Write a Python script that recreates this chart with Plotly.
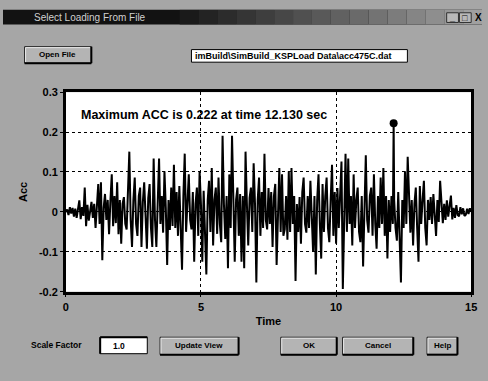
import numpy as np
import plotly.graph_objects as go

# Acceleration record, sampled every dt seconds (one row = 0.5 s)
dt = 0.05
acc = [
    0.000, 0.006, -0.008, 0.012, -0.004, 0.010, -0.012, 0.008, -0.015, 0.014,
    0.029, -0.018, 0.012, -0.010, 0.061, -0.036, 0.018, -0.022, 0.010, 0.025,
    -0.015, 0.020, -0.040, 0.022, 0.070, -0.030, 0.074, -0.121, 0.010, 0.045,
    -0.020, 0.030, -0.056, 0.028, 0.094, -0.036, 0.040, -0.028, 0.074, -0.056,
    0.030, -0.080, 0.020, 0.037, -0.030, -0.044, 0.050, 0.151, -0.020, -0.088,
    0.030, 0.086, -0.030, -0.060, 0.040, 0.061, -0.088, 0.025, 0.074, -0.040,
    -0.092, 0.035, 0.070, -0.040, -0.088, 0.134, -0.020, -0.088, 0.045, 0.134,
    -0.030, 0.040, -0.052, 0.102, 0.010, -0.133, 0.030, -0.045, 0.061, -0.035,
    0.118, -0.040, 0.050, -0.060, 0.065, -0.030, -0.145, 0.040, 0.146, -0.050,
    0.030, 0.094, -0.020, -0.044, 0.050, -0.125, 0.020, 0.061, -0.060, 0.102,
    0.020, -0.125, 0.053, -0.030, -0.157, 0.030, 0.078, -0.050, 0.110, -0.084,
    0.030, 0.061, -0.055, 0.086, -0.030, -0.076, 0.191, 0.020, -0.068, 0.040,
    -0.141, 0.094, -0.040, 0.191, 0.010, -0.125, 0.030, 0.061, -0.060, 0.045,
    -0.125, 0.040, -0.141, 0.151, 0.020, -0.084, 0.035, 0.061, -0.050, 0.122,
    0.020, -0.177, 0.030, 0.086, -0.060, 0.050, -0.040, 0.146, -0.020, -0.044,
    0.060, -0.030, 0.050, -0.088, 0.040, 0.070, -0.133, 0.030, 0.110, -0.050,
    0.094, -0.060, -0.044, 0.040, -0.070, 0.102, -0.050, 0.110, -0.030, 0.040,
    -0.173, 0.020, -0.050, 0.037, -0.080, 0.050, 0.086, -0.030, -0.052, 0.040,
    -0.040, 0.078, -0.020, -0.100, 0.040, -0.157, 0.030, 0.094, -0.030, -0.117,
    0.070, -0.050, 0.040, 0.086, -0.040, -0.076, 0.030, 0.118, -0.060, 0.050,
    -0.080, 0.060, -0.040, 0.030, 0.126, -0.193, 0.020, 0.146, -0.050, 0.134,
    -0.030, 0.040, -0.084, 0.094, -0.040, 0.030, 0.061, -0.050, -0.076, 0.040,
    -0.137, 0.030, 0.142, -0.020, -0.052, 0.040, 0.061, -0.060, 0.094, -0.030,
    -0.092, 0.040, -0.040, 0.086, -0.030, 0.110, -0.060, 0.040, -0.117, 0.030,
    -0.050, 0.040, -0.030, 0.030, -0.040, -0.072, 0.050, -0.040, -0.177, 0.030,
    -0.040, 0.102, -0.030, 0.138, 0.010, -0.052, 0.030, -0.084, 0.020, 0.061,
    -0.040, -0.125, 0.065, -0.030, 0.030, 0.078, -0.040, -0.084, 0.030, -0.020,
    0.037, -0.030, 0.045, -0.020, -0.060, 0.030, -0.025, 0.078, 0.010, -0.028,
    0.020, -0.020, 0.029, -0.012, 0.015, 0.041, -0.019, 0.010, -0.015, 0.017,
    -0.008, -0.011, 0.012, -0.006, 0.009, -0.010, -0.007, 0.008, -0.005, 0.009,
    0.000,
]

# Maximum of the record
peak_time = 12.13
peak_acc = 0.222

x_ticks = [0, 5, 10, 15]
y_ticks = [-0.2, -0.1, 0, 0.1, 0.2, 0.3]
y_tick_text = ["-0.2", "-0.1", "0", "0.1", "0.2", "0.3"]

file_name = "imBuild\\SimBuild_KSPLoad Data\\acc475C.dat"
scale_factor = "1.0"

# merge the peak sample into the record
time = np.arange(len(acc)) * dt
pos = int(np.searchsorted(time, peak_time))
t_all = np.insert(time, pos, peak_time)
a_all = np.insert(np.array(acc), pos, peak_acc)

W, H = 488, 381
FONT = "Liberation Sans"
GRAY = "#a6a6a6"


def px(x):
    return x / W


def py(y):
    return 1 - y / H


shapes = []
annotations = []


def rect(x0, y0, x1, y1, fill, line=None, lw=0):
    shapes.append(dict(type="rect", xref="paper", yref="paper",
                       x0=px(x0), x1=px(x1), y0=py(y1), y1=py(y0),
                       fillcolor=fill, line=dict(color=line or fill, width=lw)))


def seg(x0, y0, x1, y1, color, lw):
    shapes.append(dict(type="line", xref="paper", yref="paper",
                       x0=px(x0), x1=px(x1), y0=py(y0), y1=py(y1),
                       line=dict(color=color, width=lw)))


def text(x, y, s, size=9, color="black", bold=True, xanchor="center"):
    annotations.append(dict(xref="paper", yref="paper", x=px(x), y=py(y), text=s,
                            showarrow=False, xanchor=xanchor, yanchor="middle",
                            font=dict(family=FONT, size=size, color=color,
                                      weight="bold" if bold else "normal")))


def button(x0, y0, x1, y1, label):
    rect(x0, y0, x1, y1, "#b4b4b4", "#202020", 1)
    seg(x0 + 1, y0 + 1, x1 - 1, y0 + 1, "#e8e8e8", 1)
    seg(x0 + 1, y0 + 1, x0 + 1, y1 - 1, "#e8e8e8", 1)
    seg(x0, y1, x1, y1, "black", 2)
    seg(x1, y0, x1, y1, "black", 2)
    text((x0 + x1) / 2, (y0 + y1) / 2, label, size=8)


# window title bar, dark on the left fading to gray towards the right
rect(0, 4, 488, 19, "#121212")
steps = 16
for i in range(steps):
    c = int(18 + (160 - 18) * (i + 1) / steps)
    rect(180 + i * 19.25, 4, 180 + (i + 1) * 19.25, 19, f"rgb({c},{c},{c})")
text(30, 12, "Select Loading From File", size=10, color="#d0d0d0", bold=False, xanchor="left")
rect(452, 7, 464, 17, "#b8b8b8", "#303030", 1)
rect(465, 7, 477, 17, "#b8b8b8", "#303030", 1)
text(458, 12, "_", size=9)
text(471, 12, "□", size=9)
text(484, 12, "X", size=10)

# top controls
button(22, 42, 90, 59, "Open File")
rect(192, 45, 412, 58, "white", "black", 1)
text(194, 52, file_name, size=9, xanchor="left")

# bottom controls
text(54, 350, "Scale Factor", size=8.5)
rect(99, 342, 147, 359, "white", "black", 1)
seg(99, 342, 147, 342, "black", 2)
seg(99, 342, 99, 359, "black", 2)
text(118, 351, scale_factor, size=8.5)
button(160, 342, 240, 360, "Update View")
button(283, 342, 340, 360, "OK")
button(346, 342, 418, 360, "Cancel")
button(432, 342, 463, 360, "Help")

fig = go.Figure()
fig.add_trace(go.Scatter(x=t_all, y=a_all, mode="lines",
                         line=dict(color="black", width=2), hoverinfo="skip"))
fig.add_trace(go.Scatter(x=[peak_time], y=[peak_acc], mode="markers",
                         marker=dict(color="black", size=8), hoverinfo="skip"))

annotations.append(dict(x=0.47, y=0.244, xref="x", yref="y", xanchor="left",
                        yanchor="middle", showarrow=False,
                        text=f"Maximum ACC is {peak_acc:.3f} at time {peak_time:.3f} sec",
                        font=dict(family=FONT, size=12.5, color="black", weight="bold")))

fig.update_layout(
    width=W, height=H, autosize=False,
    margin=dict(l=0, r=0, t=0, b=0),
    paper_bgcolor=GRAY, plot_bgcolor="white",
    showlegend=False,
    shapes=shapes, annotations=annotations,
    xaxis=dict(domain=[64 / W, 477 / W], range=[0, 15], tickvals=x_ticks,
               showline=True, linecolor="black", linewidth=2.5, mirror=True,
               ticks="outside", ticklen=3, tickcolor="black",
               showgrid=True, gridcolor="black", griddash="dot", gridwidth=1,
               zeroline=False,
               tickfont=dict(family=FONT, size=11, color="black", weight="bold"),
               title=dict(text="Time", standoff=6,
                          font=dict(family=FONT, size=11, color="black", weight="bold"))),
    yaxis=dict(domain=[py(295), py(89)], range=[-0.2, 0.3], tickvals=y_ticks,
               ticktext=y_tick_text,
               showline=True, linecolor="black", linewidth=2.5, mirror=True,
               ticks="outside", ticklen=3, tickcolor="black",
               showgrid=True, gridcolor="black", griddash="dot", gridwidth=1,
               zeroline=False,
               tickfont=dict(family=FONT, size=11, color="black", weight="bold"),
               title=dict(text="Acc", standoff=10,
                          font=dict(family=FONT, size=11, color="black", weight="bold"))),
)

fig.write_html("out.html")
